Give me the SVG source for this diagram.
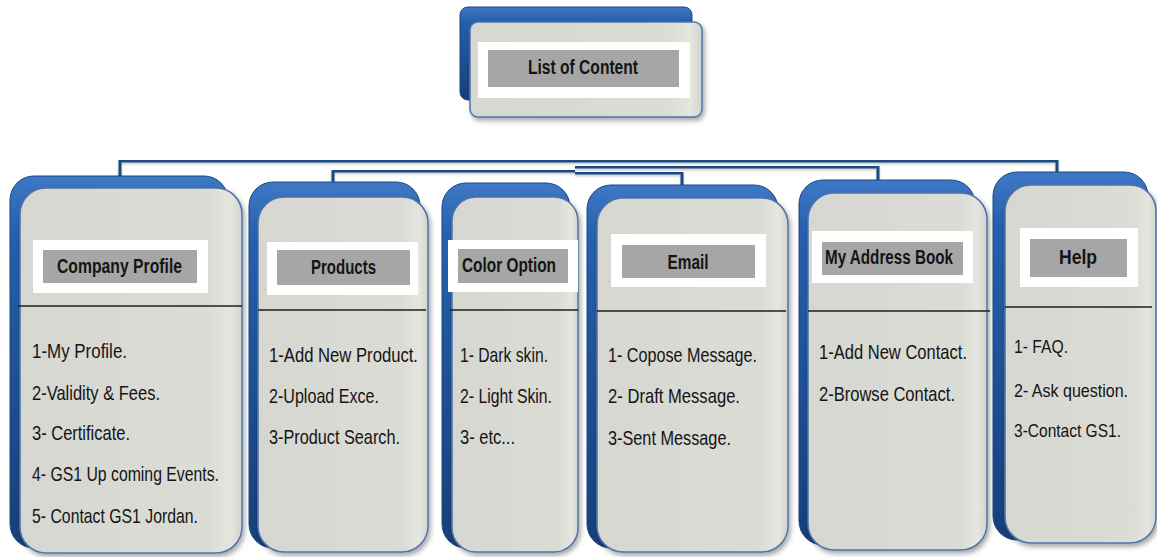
<svg xmlns="http://www.w3.org/2000/svg" width="1157" height="557" viewBox="0 0 1157 557">
<defs>
<linearGradient id="blue" x1="0" y1="0" x2="0" y2="1">
<stop offset="0" stop-color="#3f78c6"/>
<stop offset="0.15" stop-color="#2560ad"/>
<stop offset="1" stop-color="#173f78"/>
</linearGradient>
<linearGradient id="card" x1="0" y1="0" x2="1" y2="0">
<stop offset="0" stop-color="#d6d7d1"/>
<stop offset="0.85" stop-color="#dcdcd7"/>
<stop offset="0.95" stop-color="#e6e6e0"/>
<stop offset="1" stop-color="#d2d3cd"/>
</linearGradient>
<filter id="sh" x="-10%" y="-10%" width="125%" height="125%">
<feDropShadow dx="2" dy="3" stdDeviation="2.5" flood-color="#000" flood-opacity="0.35"/>
</filter>
<filter id="lsh" x="-5%" y="-5%" width="110%" height="110%">
<feDropShadow dx="0" dy="1.5" stdDeviation="1" flood-color="#000" flood-opacity="0.25"/>
</filter>
</defs>
<style>
.back{fill:url(#blue);stroke:#1b4680;stroke-width:1}
.front{fill:url(#card);stroke:#4f74a6;stroke-width:1.5;filter:url(#sh)}
.wbox{fill:#ffffff}
.gbox{fill:#a6a6a6}
.div{stroke:#1e1e1e;stroke-width:1.6}
.lbl{font-family:"Liberation Sans",Arial,sans-serif;font-weight:bold;font-size:20px;fill:#141414;text-anchor:middle}
.itm{font-family:"Liberation Sans",Arial,sans-serif;font-size:21px;fill:#141414}
.sm{font-size:19px}
.con{fill:none;stroke:#1f4a80;stroke-width:3;filter:url(#lsh)}
</style>
<g id="connectors">
<path class="con" d="M575 117 V174"/>
<path class="con" d="M120 179 V161 H1057 V173"/>
<path class="con" d="M333 186 V171 H575"/>
<path class="con" d="M504 181 V171"/>
<path class="con" d="M575 167 H878 V181"/>
<path class="con" d="M575 173 H682 V187"/>
</g>
<g id="list-of-content">
<rect class="back" x="460" y="7" width="232" height="93" rx="8"/>
<rect class="front" x="470" y="22" width="232" height="95" rx="8"/>
<rect class="wbox" x="478" y="42" width="212" height="56"/>
<rect class="gbox" x="488" y="50" width="191" height="37"/>
<text class="lbl" x="583" y="74" textLength="110" lengthAdjust="spacingAndGlyphs">List of Content</text>
</g>
<g id="company-profile">
<rect class="back" x="10" y="176" width="218" height="372" rx="24"/>
<rect class="front" x="20" y="188" width="222" height="365" rx="26"/>
<rect class="wbox" x="33" y="240" width="175" height="53"/>
<rect class="gbox" x="43" y="250" width="154" height="33"/>
<text class="lbl" x="119.5" y="273" textLength="125" lengthAdjust="spacingAndGlyphs">Company Profile</text>
<line class="div" x1="18" y1="306" x2="242" y2="306"/>
<text class="itm" x="32" y="358" textLength="95" lengthAdjust="spacingAndGlyphs">1-My Profile.</text>
<text class="itm" x="32" y="400" textLength="128" lengthAdjust="spacingAndGlyphs">2-Validity &amp; Fees.</text>
<text class="itm" x="32" y="440" textLength="98" lengthAdjust="spacingAndGlyphs">3- Certificate.</text>
<text class="itm" x="32" y="481" textLength="187" lengthAdjust="spacingAndGlyphs">4- GS1 Up coming Events.</text>
<text class="itm" x="32" y="523" textLength="166" lengthAdjust="spacingAndGlyphs">5- Contact GS1 Jordan.</text>
</g>
<g id="products">
<rect class="back" x="249" y="182" width="171" height="366" rx="24"/>
<rect class="front" x="258" y="197" width="170" height="355" rx="26"/>
<rect class="wbox" x="267" y="242" width="151" height="53"/>
<rect class="gbox" x="277" y="250" width="133" height="35"/>
<text class="lbl" x="343.5" y="274" textLength="65" lengthAdjust="spacingAndGlyphs">Products</text>
<line class="div" x1="258" y1="310" x2="426" y2="310"/>
<text class="itm" x="269" y="362" textLength="149" lengthAdjust="spacingAndGlyphs">1-Add New Product.</text>
<text class="itm" x="269" y="403" textLength="110" lengthAdjust="spacingAndGlyphs">2-Upload Exce.</text>
<text class="itm" x="269" y="444" textLength="131" lengthAdjust="spacingAndGlyphs">3-Product Search.</text>
</g>
<g id="color-option">
<rect class="back" x="442" y="183" width="128" height="365" rx="24"/>
<rect class="front" x="452" y="197" width="126" height="355" rx="24"/>
<rect class="wbox" x="448" y="240" width="130" height="52"/>
<rect class="gbox" x="458" y="249" width="110" height="34"/>
<text class="lbl" x="509" y="272" textLength="94" lengthAdjust="spacingAndGlyphs">Color Option</text>
<line class="div" x1="450" y1="310" x2="578" y2="310"/>
<text class="itm" x="460" y="362" textLength="88" lengthAdjust="spacingAndGlyphs">1- Dark skin.</text>
<text class="itm" x="460" y="403" textLength="92" lengthAdjust="spacingAndGlyphs">2- Light Skin.</text>
<text class="itm" x="460" y="444" textLength="55" lengthAdjust="spacingAndGlyphs">3- etc...</text>
</g>
<g id="email">
<rect class="back" x="587" y="185" width="191" height="363" rx="24"/>
<rect class="front" x="597" y="198" width="191" height="354" rx="26"/>
<rect class="wbox" x="611" y="234" width="155" height="53"/>
<rect class="gbox" x="622" y="245" width="133" height="33"/>
<text class="lbl" x="688" y="269" textLength="41" lengthAdjust="spacingAndGlyphs">Email</text>
<line class="div" x1="597" y1="311" x2="786" y2="311"/>
<text class="itm" x="608" y="362" textLength="149" lengthAdjust="spacingAndGlyphs">1- Copose Message.</text>
<text class="itm" x="608" y="403" textLength="132" lengthAdjust="spacingAndGlyphs">2- Draft Message.</text>
<text class="itm" x="608" y="445" textLength="123" lengthAdjust="spacingAndGlyphs">3-Sent Message.</text>
</g>
<g id="my-address-book">
<rect class="back" x="799" y="180" width="176" height="365" rx="24"/>
<rect class="front" x="808" y="193" width="179" height="357" rx="26"/>
<rect class="wbox" x="812" y="231" width="161" height="52"/>
<rect class="gbox" x="822" y="242" width="141" height="33"/>
<text class="lbl" x="889" y="264" textLength="128" lengthAdjust="spacingAndGlyphs">My Address Book</text>
<line class="div" x1="808" y1="311" x2="990" y2="311"/>
<text class="itm" x="819" y="359" textLength="148" lengthAdjust="spacingAndGlyphs">1-Add New Contact.</text>
<text class="itm" x="819" y="401" textLength="136" lengthAdjust="spacingAndGlyphs">2-Browse Contact.</text>
</g>
<g id="help">
<rect class="back" x="993" y="172" width="155" height="368" rx="24"/>
<rect class="front" x="1005" y="185" width="151" height="358" rx="26"/>
<rect class="wbox" x="1020" y="228" width="118" height="59"/>
<rect class="gbox" x="1030" y="239" width="97" height="38"/>
<text class="lbl" x="1078" y="264" textLength="38" lengthAdjust="spacingAndGlyphs">Help</text>
<line class="div" x1="1005" y1="307" x2="1152" y2="307"/>
<text class="itm sm" x="1014" y="353" textLength="54" lengthAdjust="spacingAndGlyphs">1- FAQ.</text>
<text class="itm sm" x="1014" y="397" textLength="114" lengthAdjust="spacingAndGlyphs">2- Ask question.</text>
<text class="itm sm" x="1014" y="437" textLength="107" lengthAdjust="spacingAndGlyphs">3-Contact GS1.</text>
</g>
</svg>
